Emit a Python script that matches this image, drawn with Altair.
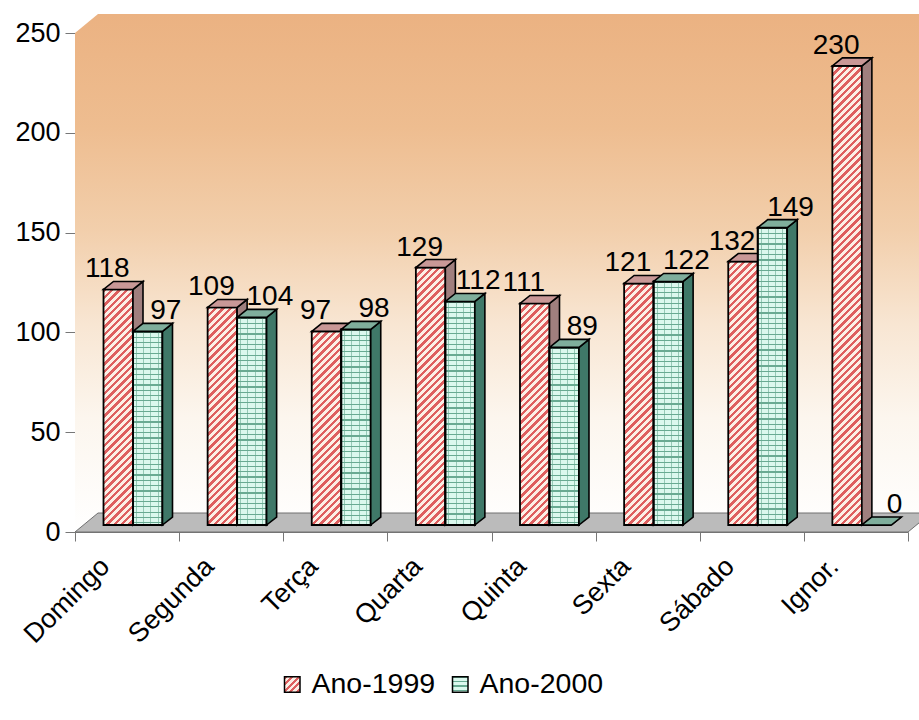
import json

import altair as alt
import pandas as pd

# ---- data ---------------------------------------------------------------
dias = ["Domingo", "Segunda", "Terça", "Quarta", "Quinta", "Sexta", "Sábado", "Ignor."]
ano_1999 = [118, 109, 97, 129, 111, 121, 132, 230]
ano_2000 = [97, 104, 98, 112, 89, 122, 149, 0]
series = ["Ano-1999", "Ano-2000"]

# ---- layout -------------------------------------------------------------
FONT = "Liberation Sans"
W, H = 833, 499            # plot area in px
Y_MAX = 250
PX_X = W / len(dias)       # px per category
PX_Y = H / Y_MAX           # px per value unit

BAR_PX = 29.5              # bar width in px
BAR_W = BAR_PX / PX_X
BAR_LEFT = 28.5 / PX_X     # left edge of the first bar inside its category
LIFT = 7 / PX_Y            # bars stand a little behind the front edge of the floor
DEPTH_X = 10 / PX_X        # 3-D depth of a bar
DEPTH_Y = 8 / PX_Y
FLOOR_X = 23 / PX_X        # depth of the floor / back wall
FLOOR_Y = 19 / PX_Y

RED_A, RED_B = "#DE5F5F", "#FCEFE6"
RED_SIDE, RED_TOP = "#A07F7E", "#C99897"
GREEN_BRICK, GREEN_MORTAR = "#DBF8EE", "#68AA92"
GREEN_JOINT = "rgba(104,170,146,0.6)"
GREEN_SIDE, GREEN_TOP = "#3F7868", "#7FAE9C"

X_SCALE = alt.Scale(domain=[0, len(dias)], nice=False, zero=False)
Y_SCALE = alt.Scale(domain=[0, Y_MAX], nice=False, zero=False)

label_expr = ("datum.value % 1 ? " + json.dumps(dias, ensure_ascii=False)
              + "[floor(datum.value)] : ''")
X_AXIS = alt.Axis(
    values=[k / 2 for k in range(2 * len(dias) + 1)], labelExpr=label_expr,
    title=None, grid=False, tickSize=9, tickColor="#777777", domainColor="#777777",
    tickOpacity={"condition": {"test": "datum.value % 1 !== 0", "value": 0}, "value": 1},
    labelAngle=-45, labelAlign="right", labelBaseline="middle",
    labelPadding=21, labelOffset=-22, labelFontSize=27, labelFont=FONT,
    labelColor="black", labelOverlap=False, labelFlush=False, labelBound=False,
)
Y_AXIS = alt.Axis(
    values=list(range(0, Y_MAX + 1, 50)), title=None, grid=False, tickSize=10,
    tickColor="#777777", domainColor="#777777", labelFontSize=27, labelFont=FONT,
    labelColor="black", labelPadding=5,
)


def xq(field):
    return alt.X(f"{field}:Q", scale=X_SCALE, axis=X_AXIS)


def yq(field):
    return alt.Y(f"{field}:Q", scale=Y_SCALE, axis=Y_AXIS)


def stop(offset, color):
    return {"offset": max(0.0, min(1.0, offset)), "color": color}


def stripes(w, h, period=7.4, ink=0.46, c1=RED_A, c2=RED_B):
    """Diagonal '/' stripes for a w x h px rectangle."""
    if h <= 0:
        return c2
    k = w / (w * w + h * h)          # gradient offset per px of (x + y)
    stops, s = [], 0.0
    while s < w + h:
        a, b, c = s * k, (s + period * ink) * k, (s + period) * k
        stops += [stop(a, c1), stop(b, c1), stop(b, c2), stop(c, c2)]
        s += period
    return {"gradient": "linear", "x1": 0, "y1": 0, "x2": 1, "y2": h / w, "stops": stops}


def bricks(h, period=5.3, mortar=1.2, c1=GREEN_MORTAR, c2=GREEN_BRICK):
    """Horizontal mortar lines for a brick-textured bar of height h px."""
    if h <= 0:
        return c2
    stops, y = [], 0.0
    while y < h:
        a, b, c = y / h, (y + mortar) / h, (y + period) / h
        stops += [stop(a, c1), stop(b, c1), stop(b, c2), stop(c, c2)]
        y += period
    return {"gradient": "linear", "x1": 0, "y1": 0, "x2": 0, "y2": 1, "stops": stops}


def joints(w, period=7.2, width=1.0, c1=GREEN_JOINT):
    """Vertical brick joints laid over the mortar lines."""
    clear = "rgba(0,0,0,0)"
    stops, x = [], 3.0
    stops.append(stop(0, clear))
    while x < w:
        a, b = x / w, (x + width) / w
        stops += [stop(a, clear), stop(a, c1), stop(b, c1), stop(b, clear)]
        x += period
    stops.append(stop(1, clear))
    return {"gradient": "linear", "x1": 0, "y1": 0, "x2": 1, "y2": 0, "stops": stops}


def geometry(s_index, values):
    rows = []
    for i, (dia, v) in enumerate(zip(dias, values)):
        xl = i + BAR_LEFT + s_index * BAR_W
        rows.append(dict(dia=dia, serie=series[s_index], valor=v, xl=xl, xr=xl + BAR_W,
                         xc=xl + BAR_W / 2, base=LIFT, top=v + LIFT))
    return pd.DataFrame(rows)


def side_faces(geo):
    rows = []
    for _, r in geo.iterrows():
        rows.append(dict(face=r.dia, serie=r.serie, x=r.xr, lo=r.base, hi=r.top))
        rows.append(dict(face=r.dia, serie=r.serie, x=r.xr + DEPTH_X,
                         lo=r.base + DEPTH_Y, hi=r.top + DEPTH_Y))
    return pd.DataFrame(rows)


def top_faces(geo):
    rows = []
    for _, r in geo.iterrows():
        t = r.top
        for x, lo, hi in [(r.xl, t, t), (r.xl + DEPTH_X, t, t + DEPTH_Y),
                          (r.xr, t, t + DEPTH_Y), (r.xr + DEPTH_X, t + DEPTH_Y, t + DEPTH_Y)]:
            rows.append(dict(face=r.dia, serie=r.serie, x=x, lo=lo, hi=hi))
    return pd.DataFrame(rows)


# legend swatches carry the same textures as the bars
SW = 15.5
swatches = [json.dumps(stripes(SW, SW, period=6.5)),
            json.dumps(bricks(SW, period=4.4, mortar=1.2))]
LEGEND = alt.Legend(
    title=None, orient="none", legendX=203, legendY=637, direction="horizontal",
    symbolType="square", symbolSize=SW * SW, symbolStrokeColor="black",
    symbolStrokeWidth=1.5, symbolOpacity=1, labelFontSize=28.5, labelFont=FONT,
    labelColor="black", columnPadding=10, labelOffset=5,
)
COLOR = alt.Color(
    "serie:N",
    scale=alt.Scale(domain=series, range=[{"expr": s} for s in swatches]),
    legend=LEGEND,
)

# ---- back wall and floor --------------------------------------------------
wall = pd.DataFrame({
    "x": [0, FLOOR_X, len(dias) + FLOOR_X],
    "lo": [0, 0, 0],
    "hi": [Y_MAX, Y_MAX + FLOOR_Y, Y_MAX + FLOOR_Y],
})
floor = pd.DataFrame({
    "x": [0, FLOOR_X, len(dias), len(dias) + FLOOR_X],
    "lo": [0, 0, 0, FLOOR_Y],
    "hi": [0, FLOOR_Y, FLOOR_Y, FLOOR_Y],
})
wall_fill = {
    "gradient": "linear", "x1": 0, "y1": 0, "x2": 0, "y2": 1,
    "stops": [
        {"offset": 0.0, "color": "#EBB282"},
        {"offset": 0.22, "color": "#EEBD90"},
        {"offset": 0.42, "color": "#F2CFAC"},
        {"offset": 0.6, "color": "#F8E6D3"},
        {"offset": 0.78, "color": "#FCF6EE"},
        {"offset": 1.0, "color": "#FFFFFF"},
    ],
}

geos = [geometry(0, ano_1999), geometry(1, ano_2000)]

layers = [
    alt.Chart(wall).mark_area(orient="vertical", fill=wall_fill, opacity=1)
    .encode(x=xq("x"), y=yq("lo"), y2="hi"),
    alt.Chart(floor).mark_area(orient="vertical", fill="#BBBBBB", stroke="#707070",
                               strokeWidth=1, opacity=1)
    .encode(x=xq("x"), y=yq("lo"), y2="hi"),
    # zero-size points: they only carry the series legend
    alt.Chart(pd.concat(geos)).mark_point(filled=True, size=0, opacity=0)
    .encode(x=xq("xc"), y=yq("base"), color=COLOR),
]

for s_index, geo in enumerate(geos):
    for k in range(len(geo)):
        h = geo.valor[k] * PX_Y
        fill = stripes(BAR_PX, h) if s_index == 0 else bricks(h)
        layers.append(
            alt.Chart(geo.iloc[[k]]).mark_rect(fill=fill, stroke="black", strokeWidth=1.8,
                                               opacity=1)
            .encode(x=xq("xl"), x2="xr", y=yq("base"), y2="top")
        )
        if s_index == 1 and h > 0:
            layers.append(
                alt.Chart(geo.iloc[[k]]).mark_rect(fill=joints(BAR_PX), stroke="black",
                                                   strokeWidth=1.8, opacity=1)
                .encode(x=xq("xl"), x2="xr", y=yq("base"), y2="top")
            )
    layers.append(
        alt.Chart(side_faces(geo)).mark_area(
            orient="vertical", fill=RED_SIDE if s_index == 0 else GREEN_SIDE,
            stroke="black", strokeWidth=1.6, strokeJoin="miter", opacity=1)
        .encode(x=xq("x"), y=yq("lo"), y2="hi", detail="face:N")
    )
    layers.append(
        alt.Chart(top_faces(geo)).mark_area(
            orient="vertical", fill=RED_TOP if s_index == 0 else GREEN_TOP,
            stroke="black", strokeWidth=1.6, strokeJoin="miter", opacity=1)
        .encode(x=xq("x"), y=yq("lo"), y2="hi", detail="face:N")
    )

for s_index, geo in enumerate(geos):
    layers.append(
        alt.Chart(geo).mark_text(font=FONT, fontSize=28, color="black", baseline="alphabetic",
                                 dx=-11 if s_index == 0 else 18, dy=-12)
        .encode(x=xq("xc"), y=yq("top"), text=alt.Text("valor:Q"))
    )

chart = (
    alt.layer(*layers)
    .properties(width=W, height=H, autosize="none",
                padding={"left": 75, "top": 33, "right": 11, "bottom": 188},
                background="white")
    .configure_view(strokeWidth=0)
)

chart.save("out.html", embed_options={"renderer": "svg", "actions": False})
